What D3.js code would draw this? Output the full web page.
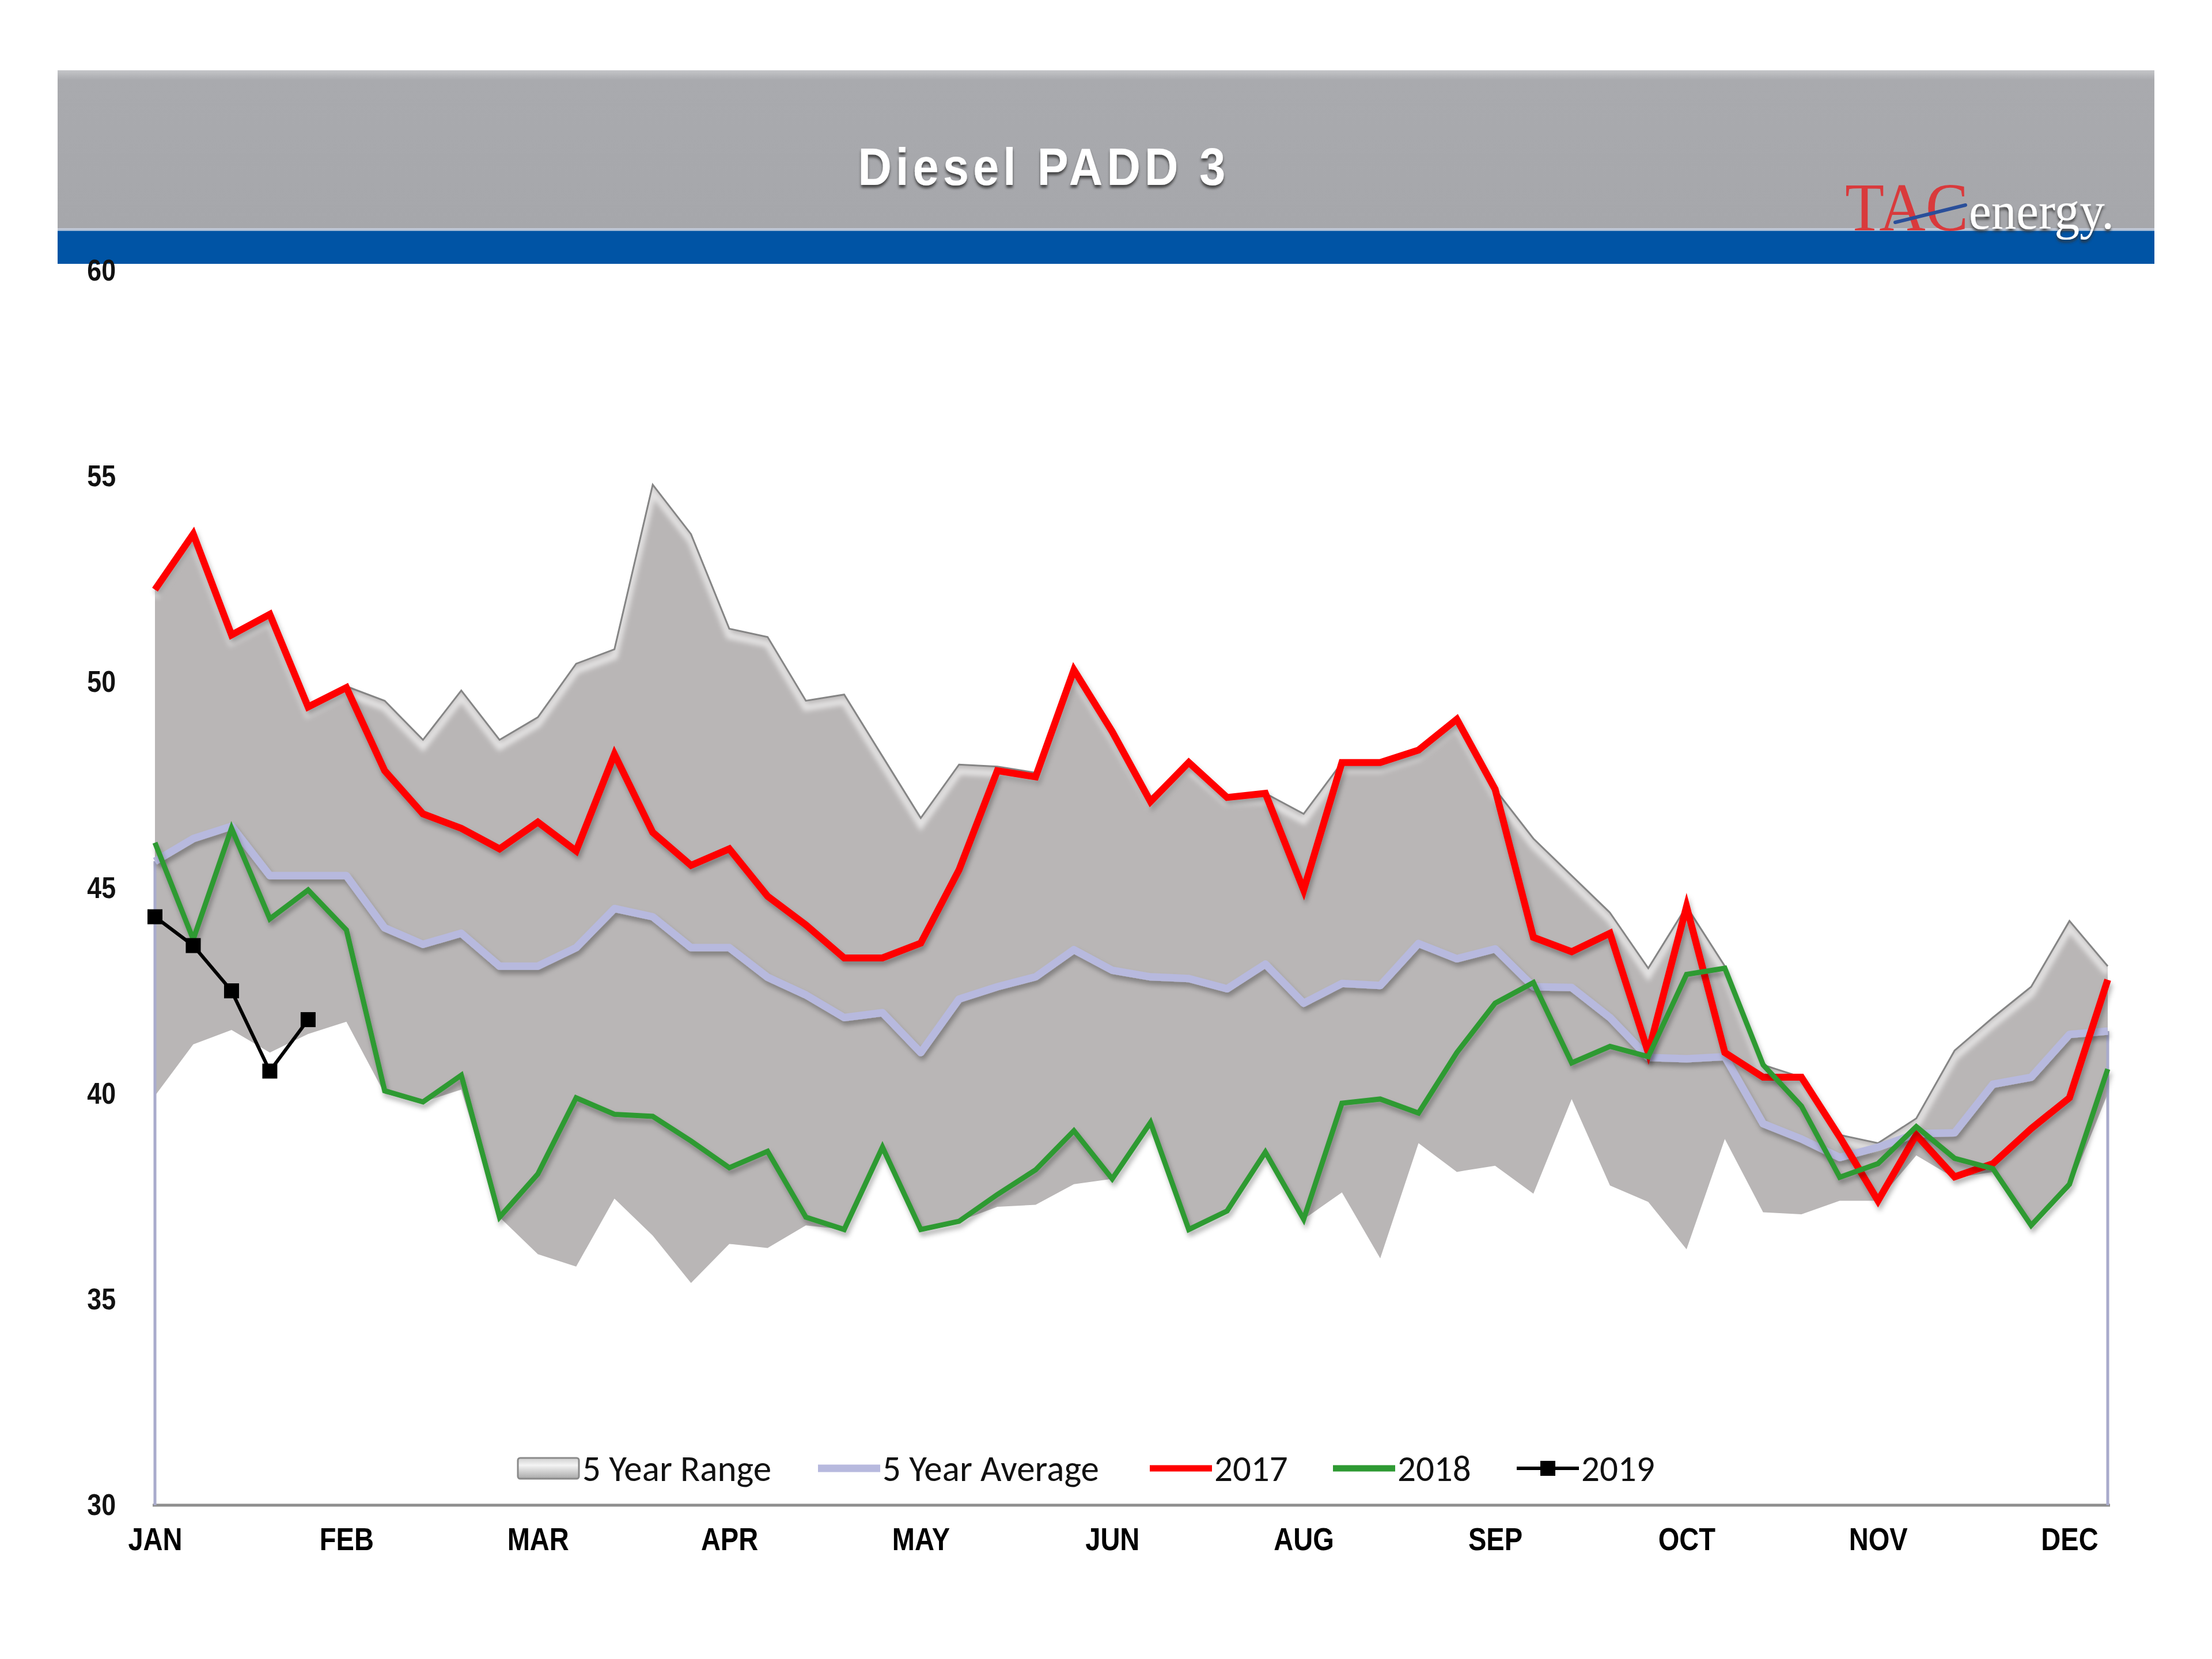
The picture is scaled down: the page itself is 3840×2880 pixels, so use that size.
<!DOCTYPE html>
<html>
<head>
<meta charset="utf-8">
<script src="https://cdn.jsdelivr.net/npm/d3@7"></script>
<style>
  body { margin: 0; background: #fff; }
</style>
</head>
<body>
<svg id="chart" width="3840" height="2880"></svg>
<script>
// weekly values, 52 weeks
const weeks = d3.range(1, 53);
const monthLabels = ["JAN", "FEB", "MAR", "APR", "MAY", "JUN", "AUG", "SEP", "OCT", "NOV", "DEC"];
const monthWeeks = [1, 6, 11, 16, 21, 26, 31, 36, 41, 46, 51];
const yTicks = [30, 35, 40, 45, 50, 55, 60];

const rangeHigh = [52.25, 53.6, 51.15, 51.65, 49.4, 49.9, 49.55, 48.6, 49.8, 48.6,
  49.15, 50.45, 50.8, 54.8, 53.6, 51.3, 51.1, 49.55, 49.7, 48.2,
  46.7, 48.0, 47.95, 47.8, 50.3, 48.8, 47.2, 48.05, 47.25, 47.3,
  46.8, 48.05, 48.05, 48.35, 49.1, 47.4, 46.2, 45.3, 44.4, 43.05,
  44.55, 43.1, 40.7, 40.4, 39.0, 38.8, 39.4, 41.05, 41.85, 42.6,
  44.2, 43.1];
const rangeLow = [39.95, 41.2, 41.55, 41.0, 41.45, 41.75, 40.0, 39.8, 40.1, 37.0,
  36.1, 35.8, 37.45, 36.55, 35.4, 36.35, 36.25, 36.8, 36.7, 38.7,
  36.7, 36.9, 37.25, 37.3, 37.8, 37.93, 39.3, 36.7, 37.15, 38.58,
  36.95, 37.6, 36.0, 38.8, 38.1, 38.25, 37.57, 39.87, 37.77, 37.37,
  36.22, 38.9, 37.12, 37.07, 37.4, 37.4, 38.5, 37.95, 38.1, 36.8,
  37.7, 40.0];
const avg5 = [45.65, 46.2, 46.5, 45.3, 45.3, 45.3, 44.03, 43.63, 43.9, 43.1,
  43.1, 43.55, 44.5, 44.3, 43.55, 43.55, 42.83, 42.4, 41.85, 41.97,
  41.0, 42.3, 42.6, 42.84, 43.5, 43.0, 42.84, 42.8, 42.55, 43.15,
  42.2, 42.68, 42.63, 43.65, 43.28, 43.52, 42.6, 42.58, 41.85, 40.88,
  40.85, 40.9, 39.27, 38.9, 38.45, 38.7, 39.03, 39.05, 40.23, 40.4,
  41.44, 41.52];
const y2017 = [52.25, 53.6, 51.15, 51.65, 49.4, 49.87, 47.85, 46.8, 46.45, 45.95,
  46.6, 45.9, 48.25, 46.35, 45.55, 45.95, 44.8, 44.1, 43.3, 43.3,
  43.66, 45.44, 47.85, 47.7, 50.3, 48.8, 47.1, 48.05, 47.2, 47.3,
  44.95, 48.05, 48.05, 48.35, 49.1, 47.4, 43.8, 43.45, 43.9, 41.0,
  44.55, 41.0, 40.4, 40.4, 38.95, 37.4, 39.0, 37.98, 38.3, 39.15,
  39.9, 42.77];
const y2018 = [46.1, 43.75, 46.45, 44.25, 44.95, 43.98, 40.07, 39.8, 40.45, 37.0,
  38.05, 39.9, 39.5, 39.45, 38.85, 38.2, 38.6, 37.0, 36.7, 38.7,
  36.7, 36.9, 37.55, 38.15, 39.1, 37.93, 39.3, 36.7, 37.15, 38.58,
  36.95, 39.77, 39.87, 39.53, 41.0, 42.2, 42.7, 40.75, 41.15, 40.9,
  42.9, 43.05, 40.7, 39.7, 37.97, 38.3, 39.2, 38.43, 38.18, 36.8,
  37.8, 40.6];
const y2019 = [44.3, 43.6, 42.5, 40.55, 41.8];

const legendLabels = ["5 Year Range", "5 Year Average", "2017", "2018", "2019"];
const legendColors = ["#b9b6b6", "#b7b9de", "#ff0000", "#2e9a33", "#000000"];

const svg = d3.select("#chart");

const x = d3.scalePoint()
  .domain(weeks)
  .range([269, 3659]);
const y = d3.scaleLinear()
  .domain([30, 60])
  .range([2613, 470]);

// squeeze text horizontally, like a narrow face
function narrow(sel, k) {
  sel.each(function() {
    const len = this.getComputedTextLength();
    d3.select(this).attr("textLength", len * k).attr("lengthAdjust", "spacingAndGlyphs");
  });
}

const defs = svg.append("defs");
const shadow = defs.append("filter").attr("id", "shadow")
  .attr("x", "-5%").attr("y", "-5%").attr("width", "110%").attr("height", "120%");
shadow.append("feDropShadow")
  .attr("dx", 3).attr("dy", 7).attr("stdDeviation", 4)
  .attr("flood-color", "#000").attr("flood-opacity", 0.3);

const soft = defs.append("filter").attr("id", "soft");
soft.append("feGaussianBlur").attr("stdDeviation", 4);

const titleShadow = defs.append("filter").attr("id", "titleShadow")
  .attr("x", "-10%").attr("y", "-30%").attr("width", "120%").attr("height", "160%");
titleShadow.append("feDropShadow")
  .attr("dx", 0).attr("dy", 5).attr("stdDeviation", 2)
  .attr("flood-color", "#333").attr("flood-opacity", 0.8);

const hdrGrad = defs.append("linearGradient").attr("id", "hdrGrad")
  .attr("x1", 0).attr("y1", 0).attr("x2", 0).attr("y2", 1);
hdrGrad.append("stop").attr("offset", "0%").attr("stop-color", "#c4c5c8");
hdrGrad.append("stop").attr("offset", "6%").attr("stop-color", "#a9aaae");
hdrGrad.append("stop").attr("offset", "100%").attr("stop-color", "#a6a7ab");

const swatchGrad = defs.append("linearGradient").attr("id", "swatchGrad")
  .attr("x1", 0).attr("y1", 0).attr("x2", 0).attr("y2", 1);
swatchGrad.append("stop").attr("offset", "0%").attr("stop-color", "#cfcfcf");
swatchGrad.append("stop").attr("offset", "35%").attr("stop-color", "#f4f4f4");
swatchGrad.append("stop").attr("offset", "100%").attr("stop-color", "#a9a9a9");

// header band
svg.append("rect")
  .attr("x", 100).attr("y", 122).attr("width", 3640).attr("height", 277)
  .attr("fill", "url(#hdrGrad)");
svg.append("rect")
  .attr("x", 100).attr("y", 399).attr("width", 3640).attr("height", 59)
  .attr("fill", "#0054a5");
svg.append("rect")
  .attr("x", 100).attr("y", 396).attr("width", 3640).attr("height", 5)
  .attr("fill", "#c7d0de").attr("opacity", 0.8);

svg.append("text")
  .attr("x", 1812).attr("y", 321)
  .attr("text-anchor", "middle")
  .attr("font-family", "Liberation Sans, Arial, sans-serif")
  .attr("font-weight", "bold")
  .attr("font-size", 90)
  .attr("fill", "#ffffff")
  .attr("textLength", 645)
  .attr("lengthAdjust", "spacingAndGlyphs")
  .attr("letter-spacing", 8)
  .attr("filter", "url(#titleShadow)")
  .text("Diesel PADD 3");

// logo
const logo = svg.append("g");
logo.append("text")
  .attr("x", 3203).attr("y", 400)
  .attr("font-family", "Liberation Serif, Times New Roman, serif")
  .attr("font-size", 118)
  .attr("fill", "#d93a3c")
  .attr("textLength", 214)
  .attr("lengthAdjust", "spacingAndGlyphs")
  .text("TAC");
logo.append("text")
  .attr("x", 3418).attr("y", 397)
  .attr("font-family", "Liberation Serif, Times New Roman, serif")
  .attr("font-size", 92)
  .attr("fill", "#ffffff")
  .attr("textLength", 252)
  .attr("lengthAdjust", "spacingAndGlyphs")
  .attr("filter", "url(#titleShadow)")
  .text("energy.");
logo.append("path")
  .attr("d", "M3290,386 L3412,356")
  .attr("stroke", "#2a4f9a").attr("stroke-width", 6).attr("stroke-linecap", "round");

// axes
const xAxis = g => g
  .attr("transform", `translate(0,${y(30)})`)
  .call(d3.axisBottom(x).tickValues(monthWeeks)
    .tickFormat((d, i) => monthLabels[i]).tickSize(0).tickPadding(38))
  .call(g => g.select(".domain").remove())
  .call(g => g.selectAll("text")
    .attr("font-family", "Liberation Sans, Arial, sans-serif")
    .attr("font-weight", "bold")
    .attr("font-size", 56)
    .attr("fill", "#000")
    .call(narrow, 0.84));

const yAxis = g => g
  .attr("transform", "translate(201,0)")
  .call(d3.axisLeft(y).tickValues(yTicks).tickSize(0).tickPadding(0))
  .call(g => g.select(".domain").remove())
  .call(g => g.selectAll("text")
    .attr("font-family", "Liberation Sans, Arial, sans-serif")
    .attr("font-weight", "bold")
    .attr("font-size", 52)
    .attr("fill", "#111")
    .call(narrow, 0.86));

svg.append("g").call(yAxis);

// 5 year range
const area = d3.area()
  .x((d, i) => x(weeks[i]))
  .y0((d, i) => y(rangeLow[i]))
  .y1(d => y(d));
const topLine = d3.line()
  .x((d, i) => x(weeks[i]))
  .y(d => y(d));

defs.append("clipPath").attr("id", "rangeClip")
  .append("path").attr("d", area(rangeHigh));

svg.append("path")
  .attr("d", area(rangeHigh))
  .attr("fill", "#b9b6b6");
svg.append("g")
  .attr("clip-path", "url(#rangeClip)")
  .append("path")
  .attr("d", topLine(rangeHigh))
  .attr("transform", "translate(0,12)")
  .attr("fill", "none")
  .attr("stroke", "#ffffff")
  .attr("stroke-width", 12)
  .attr("stroke-opacity", 0.6)
  .attr("filter", "url(#soft)");
svg.append("path")
  .attr("d", topLine(rangeHigh))
  .attr("fill", "none")
  .attr("stroke", "#858585")
  .attr("stroke-width", 3);

// x axis line
svg.append("line")
  .attr("x1", x(weeks[0]) - 4).attr("x2", x(weeks[51]) + 4)
  .attr("y1", y(30) + 4).attr("y2", y(30) + 4)
  .attr("stroke", "#cfcfcf").attr("stroke-width", 10)
  .attr("filter", "url(#soft)");
svg.append("line")
  .attr("x1", x(weeks[0]) - 4).attr("x2", x(weeks[51]) + 4)
  .attr("y1", y(30)).attr("y2", y(30))
  .attr("stroke", "#8e8e8e").attr("stroke-width", 5);

svg.append("g").call(xAxis);

// edge drops of the average series
[0, 51].forEach(i => {
  svg.append("line")
    .attr("x1", x(weeks[i])).attr("x2", x(weeks[i]))
    .attr("y1", y(avg5[i])).attr("y2", y(30))
    .attr("stroke", "#a9abcc").attr("stroke-width", 5);
});

const line = d3.line()
  .x((d, i) => x(weeks[i]))
  .y(d => y(d));

svg.append("path")
  .attr("d", line(avg5))
  .attr("fill", "none")
  .attr("stroke", legendColors[1])
  .attr("stroke-width", 13)
  .attr("stroke-linejoin", "round")
  .attr("filter", "url(#shadow)");

svg.append("path")
  .attr("d", line(y2017))
  .attr("fill", "none")
  .attr("stroke", legendColors[2])
  .attr("stroke-width", 12)
  .attr("stroke-linejoin", "miter")
  .attr("filter", "url(#shadow)");

svg.append("path")
  .attr("d", line(y2018))
  .attr("fill", "none")
  .attr("stroke", legendColors[3])
  .attr("stroke-width", 9)
  .attr("stroke-linejoin", "miter")
  .attr("filter", "url(#shadow)");

svg.append("path")
  .attr("d", line(y2019))
  .attr("fill", "none")
  .attr("stroke", legendColors[4])
  .attr("stroke-width", 6);

svg.selectAll(".m2019")
  .data(y2019)
  .enter()
  .append("rect")
  .attr("class", "m2019")
  .attr("x", (d, i) => x(weeks[i]) - 13)
  .attr("y", d => y(d) - 13)
  .attr("width", 26).attr("height", 26)
  .attr("fill", "#000");

// legend
const legendX = [899, 1420, 1996, 2314, 2633];
const legendY = 2549;
const legend = svg.append("g")
  .attr("font-family", "Carlito, Calibri, Lato, sans-serif")
  .attr("font-size", 63)
  .attr("fill", "#111");

legend.append("rect")
  .attr("x", legendX[0]).attr("y", legendY - 18)
  .attr("width", 106).attr("height", 36).attr("rx", 4)
  .attr("fill", "url(#swatchGrad)")
  .attr("stroke", "#8a8a8a").attr("stroke-width", 3);

[1, 2, 3, 4].forEach(k => {
  legend.append("line")
    .attr("x1", legendX[k]).attr("x2", legendX[k] + 108)
    .attr("y1", legendY).attr("y2", legendY)
    .attr("stroke", legendColors[k])
    .attr("stroke-width", k === 1 ? 13 : (k === 4 ? 6 : 11));
});
legend.append("rect")
  .attr("x", legendX[4] + 54 - 13).attr("y", legendY - 13)
  .attr("width", 26).attr("height", 26).attr("fill", "#000");

legendLabels.forEach((t, k) => {
  legend.append("text")
    .attr("x", legendX[k] + 112)
    .attr("y", legendY + 22)
    .text(t);
});
</script>
</body>
</html>
